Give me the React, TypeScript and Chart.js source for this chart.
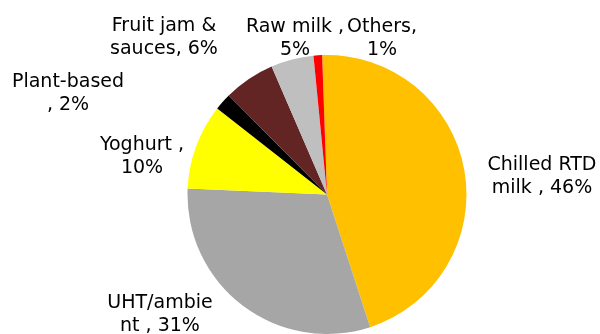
import React, { useEffect, useRef } from "react";
import { Chart, registerables } from "chart.js";

Chart.register(...registerables);

const categories = [
  "Chilled RTD milk",
  "UHT/ambient",
  "Yoghurt",
  "Plant-based",
  "Fruit jam & sauces",
  "Raw milk",
  "Others",
];
const shares = [46, 31, 10, 2, 6, 5, 1];
const labelLines = [
  ["Chilled RTD", "milk , 46%"],
  ["UHT/ambie", "nt , 31%"],
  ["Yoghurt ,", "10%"],
  ["Plant-based", ", 2%"],
  ["Fruit jam &", "sauces, 6%"],
  ["Raw milk ,", "5%"],
  ["Others,", "1%"],
];
const colors = ["#FFC000", "#A6A6A6", "#FFFF00", "#000000", "#632523", "#BFBFBF", "#FF0000"];
// label anchor (center x, first baseline y)
const labelPos = [
  [542, 170],
  [160, 308],
  [142, 150],
  [68, 87],
  [164, 31],
  [295, 32],
  [382, 32],
];

const labelPlugin = {
  id: "outLabels",
  afterDraw(chart: any) {
    const ctx = chart.ctx;
    ctx.save();
    ctx.font = '19px "DejaVu Sans"';
    ctx.fillStyle = "#000000";
    ctx.textAlign = "center";
    ctx.textBaseline = "alphabetic";
    labelLines.forEach((lines, i) => {
      const [x, y] = labelPos[i];
      lines.forEach((t, j) => ctx.fillText(t, x, y + j * 23));
    });
    ctx.restore();
  },
};

export default function App() {
  const ref = useRef<HTMLCanvasElement>(null);
  useEffect(() => {
    document.body.style.margin = "0";
    const chart = new Chart(ref.current!, {
      type: "pie",
      data: {
        labels: categories,
        datasets: [
          {
            data: shares,
            backgroundColor: colors,
            borderWidth: 0,
          },
        ],
      },
      options: {
        responsive: false,
        animation: false,
        rotation: -2,
        layout: { padding: { left: 187, right: 133, top: 55, bottom: 0 } },
        plugins: { legend: { display: false }, tooltip: { enabled: false } },
      },
      plugins: [labelPlugin],
    });
    return () => chart.destroy();
  }, []);
  return (
    <div style={{ width: 600, height: 334, background: "#fff" }}>
      <canvas ref={ref} width={600} height={334} />
    </div>
  );
}
